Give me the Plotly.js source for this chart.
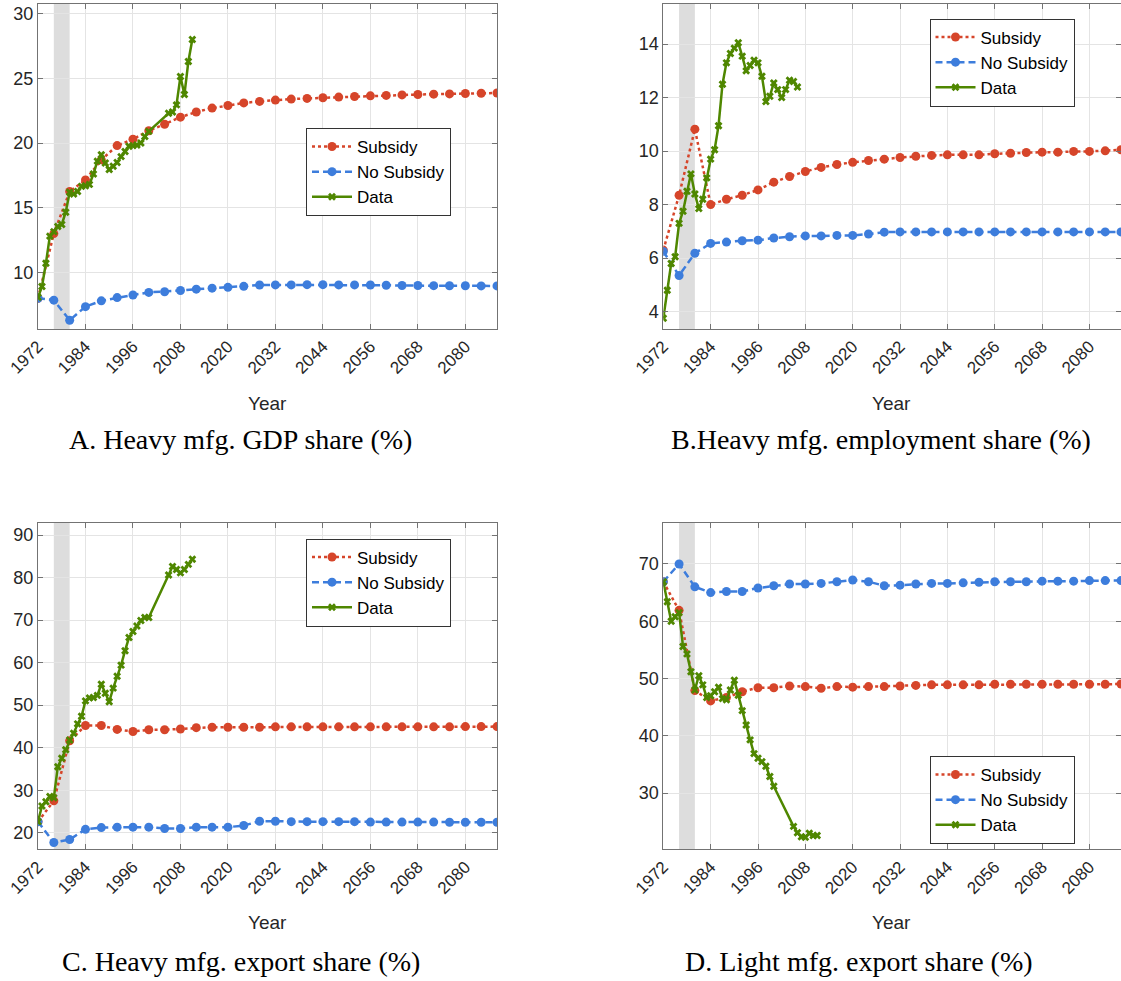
<!DOCTYPE html>
<html>
<head>
<meta charset="utf-8">
<script src="https://cdn.plot.ly/plotly-3.0.1.min.js"></script>
<style>html,body{margin:0;padding:0;background:#fff;} #chart{width:1121px;height:981px;}</style>
</head>
<body>
<div id="chart"></div>
<script>
// ---------- data ----------
const modelYears = [1972,1976,1980,1984,1988,1992,1996,2000,2004,2008,2012,2016,2020,2024,2028,2032,2036,2040,2044,2048,2052,2056,2060,2064,2068,2072,2076,2080,2084,2088];
const dataYears = [1972,1973,1974,1975,1976,1977,1978,1979,1980,1981,1982,1983,1984,1985,1986,1987,1988,1989,1990,1991,1992,1993,1994,1995,1996,1997,1998,1999,2000,2005,2006,2007,2008,2009,2010,2011];
const dataYearsB = [1972,1973,1974,1975,1976,1977,1978,1979,1980,1981,1982,1983,1984,1985,1986,1987,1988,1989,1990,1991,1992,1993,1994,1995,1996,1997,1998,1999,2000,2001,2002,2003,2004,2005,2006];
const xTickVals = [1972,1984,1996,2008,2020,2032,2044,2056,2068,2080];
const xTickText = ['1972','1984','1996','2008','2020','2032','2044','2056','2068','2080'];

// A. Heavy mfg. GDP share
const gdpSubsidy = [8.0,13.0,16.25,17.15,18.7,19.8,20.3,20.95,21.45,22.0,22.4,22.7,22.9,23.1,23.22,23.32,23.4,23.45,23.5,23.55,23.6,23.65,23.68,23.72,23.75,23.78,23.8,23.83,23.85,23.87];
const gdpNoSubsidy = [8.0,7.85,6.3,7.35,7.8,8.05,8.25,8.45,8.5,8.6,8.7,8.78,8.84,8.92,9.02,9.03,9.03,9.05,9.05,9.03,9.03,9.02,9.0,8.98,8.98,8.97,8.96,8.96,8.95,8.95];
const gdpData = [8.07,8.9,10.7,12.8,13.15,13.55,13.7,14.65,16.2,16.05,16.25,16.65,16.7,16.8,17.6,18.6,19.1,18.45,17.95,18.2,18.5,18.95,19.35,19.75,19.8,19.85,20.0,20.5,20.9,22.3,22.4,22.95,25.15,23.75,26.3,28.0];

// B. Heavy mfg. employment share
const empSubsidy = [6.3,8.35,10.82,8.0,8.2,8.35,8.55,8.84,9.05,9.24,9.39,9.5,9.58,9.65,9.7,9.76,9.81,9.84,9.86,9.86,9.86,9.9,9.92,9.95,9.96,9.96,9.99,9.99,10.01,10.05];
const empNoSubsidy = [6.25,5.35,6.18,6.55,6.6,6.65,6.67,6.75,6.8,6.83,6.83,6.85,6.85,6.9,6.97,6.98,6.98,6.98,6.98,6.98,6.98,6.98,6.98,6.98,6.98,6.98,6.98,6.98,6.98,6.98];
const empData = [3.75,4.8,5.8,6.05,7.3,7.75,8.5,9.15,8.4,7.85,8.2,9.0,9.7,10.05,10.95,12.5,13.3,13.65,13.85,14.05,13.55,13.0,13.2,13.4,13.3,12.8,11.85,12.05,12.55,12.3,12.0,12.3,12.65,12.6,12.4];

// C. Heavy mfg. export share
const hexSubsidy = [22.6,27.5,41.6,45.2,45.2,44.3,43.8,44.2,44.2,44.4,44.7,44.8,44.8,44.8,44.8,44.9,44.9,44.9,44.9,44.9,44.9,44.9,44.9,44.9,44.9,44.9,44.9,44.95,44.95,44.95];
const hexNoSubsidy = [22.6,17.7,18.4,20.8,21.2,21.3,21.3,21.3,21.0,21.0,21.3,21.3,21.3,21.7,22.7,22.7,22.6,22.6,22.6,22.6,22.6,22.5,22.5,22.5,22.5,22.5,22.45,22.45,22.45,22.45];
const hexData = [22.6,26.3,27.3,28.5,28.2,35.5,37.5,39.5,41.8,43.4,45.6,47.4,51.0,51.7,51.8,52.3,54.9,52.8,50.8,54.0,56.8,59.4,62.8,65.9,67.3,68.6,69.9,70.6,70.6,80.6,82.6,81.9,81.1,81.9,83.1,84.3];

// D. Light mfg. export share
const lexSubsidy = [66.9,61.9,47.9,46.1,46.7,47.7,48.4,48.4,48.7,48.6,48.3,48.6,48.5,48.6,48.6,48.7,48.8,48.9,48.9,48.9,48.9,49.0,49.0,49.0,49.0,49.0,49.0,49.0,49.0,49.05];
const lexNoSubsidy = [66.9,70.0,66.0,65.0,65.2,65.2,65.8,66.2,66.5,66.5,66.6,66.9,67.2,66.9,66.2,66.3,66.5,66.6,66.6,66.7,66.8,66.9,66.9,66.9,67.0,67.0,67.0,67.1,67.1,67.1];
const lexData = [66.9,63.4,60.0,60.8,61.5,55.6,54.3,51.2,48.0,50.5,48.9,46.7,47.0,47.7,48.5,46.5,46.3,48.0,49.7,47.1,44.4,41.9,39.3,36.9,36.1,35.5,34.7,32.9,31.2,24.2,23.1,22.4,22.3,23.0,22.6,22.6];

const panelTitles = ['A. Heavy mfg. GDP share (%)','B.Heavy mfg. employment share (%)','C. Heavy mfg. export share (%)','D. Light mfg. export share (%)'];
const seriesNames = ['Subsidy','No Subsidy','Data'];

// ---------- styling ----------
const W = 1121, H = 981;
const RED = '#d6452a', BLUE = '#3d7ddc', GREEN = '#4f8700';
const px = v => v / W;
const py = v => 1 - v / H;

const panels = [
  {sub: gdpSubsidy, nosub: gdpNoSubsidy, data: gdpData, dy: dataYears, xd:[38,497], yd:[4,329], yr:[5.62,30.75], yt:[10,15,20,25,30], leg:[306,128]},
  {sub: empSubsidy, nosub: empNoSubsidy, data: empData, dy: dataYearsB, xd:[663.3,1121], yd:[4,329], yr:[3.35,15.5], yt:[4,6,8,10,12,14], leg:[929.5,18.5]},
  {sub: hexSubsidy, nosub: hexNoSubsidy, data: hexData, dy: dataYears, xd:[38,497], yd:[522.7,849.3], yr:[16.1,92.9], yt:[20,30,40,50,60,70,80,90], leg:[306,538.5]},
  {sub: lexSubsidy, nosub: lexNoSubsidy, data: lexData, dy: dataYears, xd:[663.3,1121], yd:[522.7,849.3], yr:[20.2,77.2], yt:[30,40,50,60,70], leg:[929.5,756]}
];

const traces = [];
const layout = {
  width: W, height: H,
  margin: {l:0, r:0, t:0, b:0},
  paper_bgcolor: '#fff', plot_bgcolor: '#fff',
  showlegend: true,
  shapes: [], annotations: []
};
const tickFontY = {family: 'Liberation Sans, Arial, sans-serif', size: 18, color: '#262626'};
const tickFontX = {family: 'Liberation Sans, Arial, sans-serif', size: 17, color: '#262626'};

panels.forEach((p, i) => {
  const n = i + 1;
  const xa = 'x' + (n === 1 ? '' : n), ya = 'y' + (n === 1 ? '' : n);
  const leg = 'legend' + (n === 1 ? '' : n);
  const common = {
    showline: true, linecolor: '#737373', linewidth: 1, mirror: 'ticks',
    ticks: 'inside', ticklen: 5, tickcolor: '#737373', tickwidth: 1,
    showgrid: true, gridcolor: '#e4e4e4', gridwidth: 1, zeroline: false,
    fixedrange: true
  };
  layout['xaxis' + (n === 1 ? '' : n)] = Object.assign({}, common, {
    domain: [px(p.xd[0]), Math.min(1, px(p.xd[1]))], anchor: ya,
    range: [1972, 2088], tickmode: 'array', tickvals: xTickVals, ticktext: xTickText,
    tickangle: -45, tickfont: tickFontX
  });
  layout['yaxis' + (n === 1 ? '' : n)] = Object.assign({}, common, {
    domain: [py(p.yd[1]), py(p.yd[0])], anchor: xa,
    range: p.yr, tickmode: 'array', tickvals: p.yt, tickfont: tickFontY
  });
  layout[leg] = {
    x: px(p.leg[0]), y: py(p.leg[1]), xanchor: 'left', yanchor: 'top',
    bgcolor: '#fff', bordercolor: '#333', borderwidth: 1,
    font: {family: 'Liberation Sans, Arial, sans-serif', size: 17, color: '#000'},
    itemwidth: 40, tracegroupgap: 0
  };
  layout.shapes.push({type:'rect', xref: xa, yref: ya + ' domain', x0: 1976, x1: 1980, y0: 0, y1: 1,
    fillcolor: '#dddddd', line: {width: 0}, layer: 'below'});

  traces.push({x: modelYears, y: p.sub, xaxis: xa, yaxis: ya, legend: leg, name: seriesNames[0],
    mode: 'lines+markers', line: {color: RED, width: 2.5, dash: 'dot'},
    marker: {symbol: 'circle', size: 9, color: RED}});
  traces.push({x: modelYears, y: p.nosub, xaxis: xa, yaxis: ya, legend: leg, name: seriesNames[1],
    mode: 'lines+markers', line: {color: BLUE, width: 2.5, dash: '7px,4px'},
    marker: {symbol: 'circle', size: 9, color: BLUE}});
  traces.push({x: p.dy, y: p.data, xaxis: xa, yaxis: ya, legend: leg, name: seriesNames[2],
    mode: 'lines+markers', line: {color: GREEN, width: 2.5},
    marker: {symbol: 'x', size: 7, color: GREEN}});

  const cx = (p.xd[0] + Math.min(p.xd[1], 1120)) / 2;
  const yearY = (i < 2) ? 403 : 922;
  const titleY = (i < 2) ? 440 : 961;
  layout.annotations.push({text: 'Year', xref: 'paper', yref: 'paper', x: px(cx), y: py(yearY),
    xanchor: 'center', yanchor: 'middle', showarrow: false,
    font: {family: 'Liberation Sans, Arial, sans-serif', size: 19, color: '#262626'}});
  const tcx = [240, 881, 241, 859][i];
  layout.annotations.push({text: panelTitles[i], xref: 'paper', yref: 'paper', x: px(tcx), y: py(titleY),
    xanchor: 'center', yanchor: 'middle', showarrow: false,
    font: {family: 'Liberation Serif, Times New Roman, serif', size: 28, color: '#000'}});
});

Plotly.newPlot('chart', traces, layout, {displayModeBar: false, staticPlot: true});
</script>
</body>
</html>
